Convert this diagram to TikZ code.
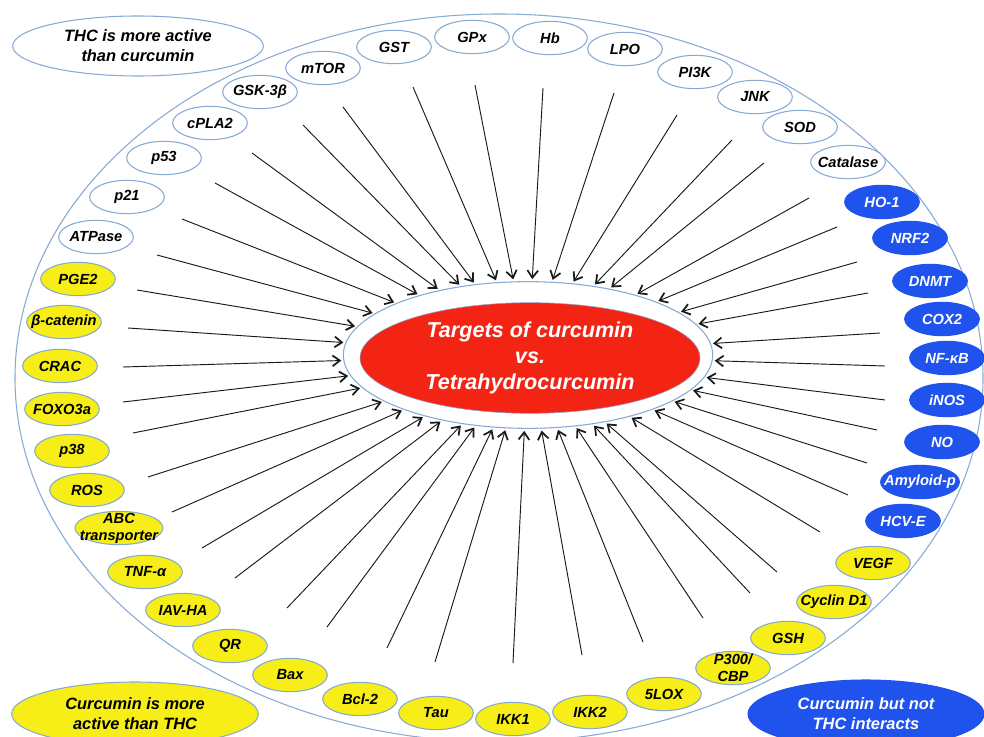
\documentclass[tikz,border=0pt]{standalone}
\usepackage{fontspec}
\setmainfont{Liberation Sans}
\usetikzlibrary{shapes.geometric,arrows.meta}

\definecolor{rim}{RGB}{135,170,212}
\definecolor{onlyblue}{RGB}{32,82,238}
\definecolor{curyellow}{RGB}{246,238,22}
\definecolor{corered}{RGB}{244,36,20}

\tikzset{
  target/.style={ellipse,draw=rim,line width=0.8pt,minimum width=56pt,minimum height=25pt,
    inner xsep=-6pt,inner ysep=-4pt,align=center,
    font=\fontsize{11}{12.8}\selectfont\bfseries\itshape},
  thc/.style={target,fill=white},
  cur/.style={target,fill=curyellow},
  only/.style={target,fill=onlyblue,draw=onlyblue,text=white},
  legend/.style={ellipse,line width=0.8pt,inner sep=0pt,align=center,
    font=\fontsize{12.3}{15}\selectfont\bfseries\itshape},
  hit/.style={-{Straight Barb[length=5.5pt,width=8pt,line width=1.3pt]},line width=0.7pt,black!90,shorten >=1.5pt}
}

\begin{document}
\begin{tikzpicture}[x=0.75pt,y=-0.75pt]
    \useasboundingbox (0,0) rectangle (984,737);
    \draw[rim,line width=0.8pt] (499,378) ellipse [x radius=484,y radius=364];

    % centre
    \node[ellipse,draw=rim,fill=white,line width=0.8pt,minimum width=277pt,minimum height=110pt] (ring) at (528,355) {};
    \node[ellipse,fill=corered,draw=rim,minimum width=255pt,minimum height=83pt,inner sep=0pt,align=center,text=white,
      font=\fontsize{16.2}{19.5}\selectfont\bfseries\itshape] (core) at (530,358) {Targets of curcumin\\vs.\\Tetrahydrocurcumin};

    % legends
    \node[legend,draw=rim,fill=white,minimum width=188pt,minimum height=45pt] (thcleg) at (138,46) {THC is more active\\than curcumin};
    \node[legend,draw=rim,fill=curyellow,minimum width=185pt,minimum height=48pt] (curleg) at (135,714) {Curcumin is more\\active than THC};
    \node[legend,draw=onlyblue,fill=onlyblue,text=white,minimum width=177pt,minimum height=51pt] (onlyleg) at (866,714) {Curcumin but not\\THC interacts};

    % THC more active
    \node[thc] (ATPase) at (96,237) {ATPase};
    \node[thc] (p21) at (127,197) {p21};
    \node[thc] (p53) at (164,158) {p53};
    \node[thc] (cPLA) at (210,123) {cPLA2};
    \node[thc] (GSK) at (260,92) {GSK-3β};
    \node[thc] (mTOR) at (323,68) {mTOR};
    \node[thc] (GST) at (394,47) {GST};
    \node[thc] (GPx) at (472,37) {GPx};
    \node[thc] (Hb) at (550,38) {Hb};
    \node[thc] (LPO) at (625,49) {LPO};
    \node[thc] (PIK) at (695,72) {PI3K};
    \node[thc] (JNK) at (755,97) {JNK};
    \node[thc] (SOD) at (800,127) {SOD};
    \node[thc] (Cat) at (848,162) {Catalase};

    % curcumin only
    \node[only] (HO) at (882,202) {HO-1};
    \node[only] (NRF) at (910,238) {NRF2};
    \node[only] (DNMT) at (930,281) {DNMT};
    \node[only] (COX) at (942,319) {COX2};
    \node[only] (NFkB) at (947,358) {NF-κB};
    \node[only] (iNOS) at (947,400) {iNOS};
    \node[only] (NO) at (942,442) {NO};
    \node[only] (Amy) at (920,482) {Amyloid-p};
    \node[only] (HCV) at (903,521) {HCV-E};

    % curcumin more active
    \node[cur] (VEGF) at (873,563) {VEGF};
    \node[cur] (Cyc) at (834,602) {Cyclin D1};
    \node[cur] (GSH) at (788,638) {GSH};
    \node[cur] (P300) at (733,668) {P300/\\CBP};
    \node[cur] (LOX) at (664,694) {5LOX};
    \node[cur] (IKKb) at (590,712) {IKK2};
    \node[cur] (IKKa) at (513,719) {IKK1};
    \node[cur] (Tau) at (436,713) {Tau};
    \node[cur] (Bcl) at (360,699) {Bcl-2};
    \node[cur] (Bax) at (290,675) {Bax};
    \node[cur] (QR) at (230,646) {QR};
    \node[cur] (IAV) at (183,610) {IAV-HA};
    \node[cur] (TNF) at (145,572) {TNF-α};
    \node[cur] (ABC) at (119,528) {ABC\\transporter};
    \node[cur] (ROS) at (87,490) {ROS};
    \node[cur] (p38) at (72,451) {p38};
    \node[cur] (FOXO) at (62,409) {FOXO3a};
    \node[cur] (CRAC) at (60,366) {CRAC};
    \node[cur] (bcat) at (64,322) {β-catenin};
    \node[cur] (PGE) at (78,279) {PGE2};

    % arrow tails
    \coordinate (sATPase) at (157,255);
    \coordinate (sp21) at (182,219);
    \coordinate (sp53) at (215,183);
    \coordinate (scPLA) at (252,153);
    \coordinate (sGSK) at (303,125);
    \coordinate (smTOR) at (343,107);
    \coordinate (sGST) at (413,87);
    \coordinate (sGPx) at (475,85);
    \coordinate (sHb) at (543,88);
    \coordinate (sLPO) at (614,93);
    \coordinate (sPIK) at (677,115);
    \coordinate (sJNK) at (732,140);
    \coordinate (sSOD) at (764,163);
    \coordinate (sCat) at (809,198);
    \coordinate (sHO) at (837,227);
    \coordinate (sNRF) at (857,262);
    \coordinate (sDNMT) at (868,293);
    \coordinate (sCOX) at (880,333);
    \coordinate (sNFkB) at (885,366);
    \coordinate (siNOS) at (885,400);
    \coordinate (sNO) at (877,430);
    \coordinate (sAmy) at (867,463);
    \coordinate (sHCV) at (848,495);
    \coordinate (sVEGF) at (820,532);
    \coordinate (sCyc) at (777,572);
    \coordinate (sGSH) at (750,593);
    \coordinate (sP300) at (703,618);
    \coordinate (sLOX) at (643,642);
    \coordinate (sIKKb) at (582,655);
    \coordinate (sIKKa) at (513,663);
    \coordinate (sTau) at (435,662);
    \coordinate (sBcl) at (387,648);
    \coordinate (sBax) at (327,627);
    \coordinate (sQR) at (287,608);
    \coordinate (sIAV) at (235,578);
    \coordinate (sTNF) at (202,548);
    \coordinate (sABC) at (172,512);
    \coordinate (sROS) at (148,477);
    \coordinate (sp38) at (133,433);
    \coordinate (sFOXO) at (123,402);
    \coordinate (sCRAC) at (123,367);
    \coordinate (sbcat) at (128,328);
    \coordinate (sPGE) at (137,290);

    % arrows
    \draw[hit] (sATPase) -- (ring);
    \draw[hit] (sp21) -- (ring);
    \draw[hit] (sp53) -- (ring);
    \draw[hit] (scPLA) -- (ring);
    \draw[hit] (sGSK) -- (ring);
    \draw[hit] (smTOR) -- (ring);
    \draw[hit] (sGST) -- (ring);
    \draw[hit] (sGPx) -- (ring);
    \draw[hit] (sHb) -- (ring);
    \draw[hit] (sLPO) -- (ring);
    \draw[hit] (sPIK) -- (ring);
    \draw[hit] (sJNK) -- (ring);
    \draw[hit] (sSOD) -- (ring);
    \draw[hit] (sCat) -- (ring);
    \draw[hit] (sHO) -- (ring);
    \draw[hit] (sNRF) -- (ring);
    \draw[hit] (sDNMT) -- (ring);
    \draw[hit] (sCOX) -- (ring);
    \draw[hit] (sNFkB) -- (ring);
    \draw[hit] (siNOS) -- (ring);
    \draw[hit] (sNO) -- (ring);
    \draw[hit] (sAmy) -- (ring);
    \draw[hit] (sHCV) -- (ring);
    \draw[hit] (sVEGF) -- (ring);
    \draw[hit] (sCyc) -- (ring);
    \draw[hit] (sGSH) -- (ring);
    \draw[hit] (sP300) -- (ring);
    \draw[hit] (sLOX) -- (ring);
    \draw[hit] (sIKKb) -- (ring);
    \draw[hit] (sIKKa) -- (ring);
    \draw[hit] (sTau) -- (ring);
    \draw[hit] (sBcl) -- (ring);
    \draw[hit] (sBax) -- (ring);
    \draw[hit] (sQR) -- (ring);
    \draw[hit] (sIAV) -- (ring);
    \draw[hit] (sTNF) -- (ring);
    \draw[hit] (sABC) -- (ring);
    \draw[hit] (sROS) -- (ring);
    \draw[hit] (sp38) -- (ring);
    \draw[hit] (sFOXO) -- (ring);
    \draw[hit] (sCRAC) -- (ring);
    \draw[hit] (sbcat) -- (ring);
    \draw[hit] (sPGE) -- (ring);
  \end{tikzpicture}
\end{document}
